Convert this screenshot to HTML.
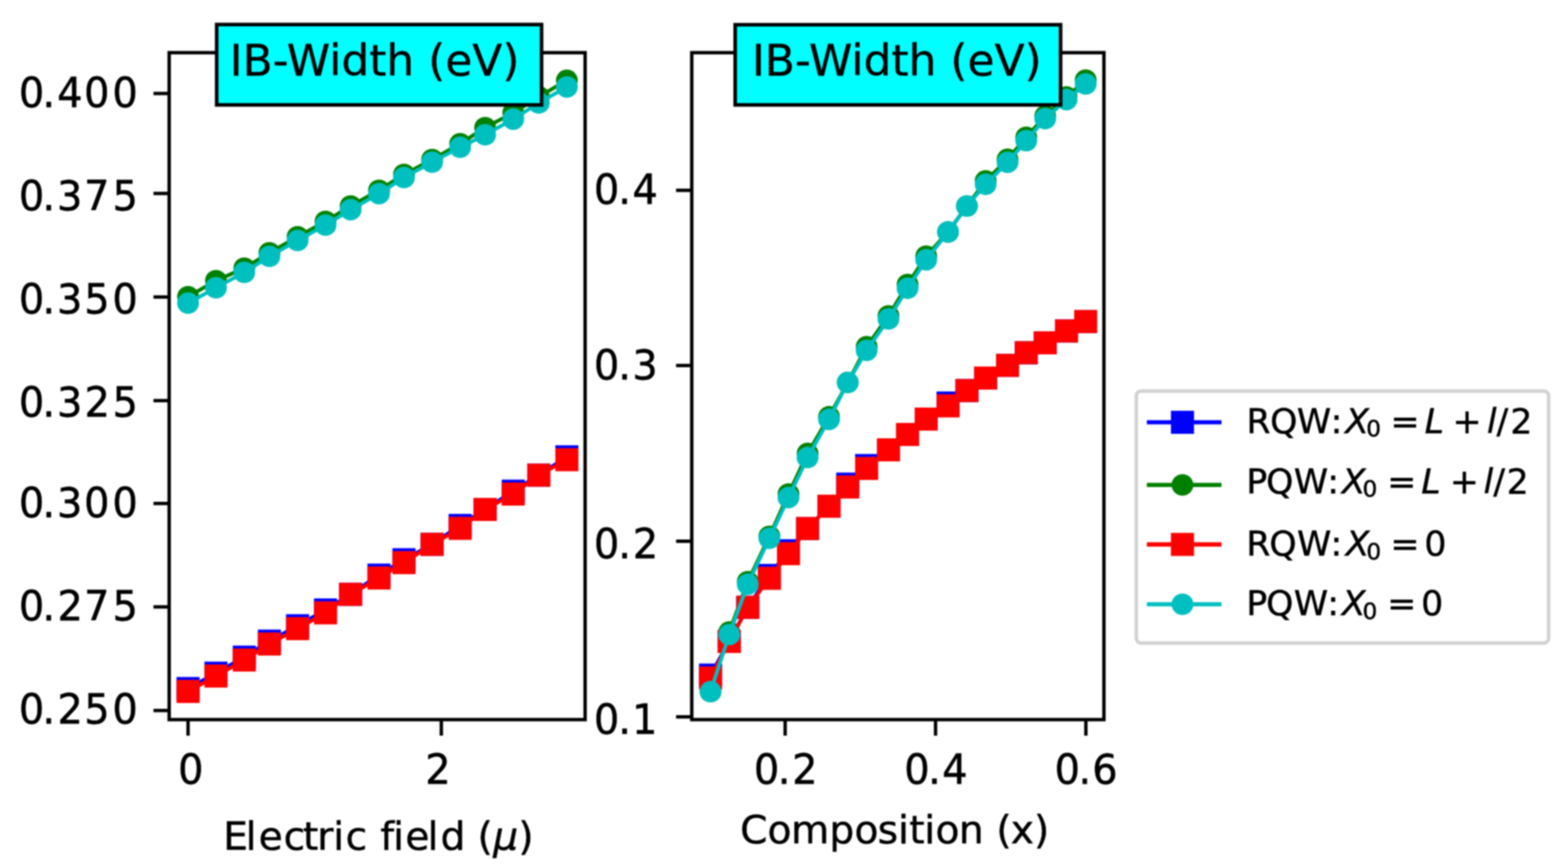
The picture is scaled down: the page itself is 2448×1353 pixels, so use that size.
<!DOCTYPE html>
<html><head><meta charset="utf-8"><title>IB-Width</title>
<style>html,body{margin:0;padding:0;background:#fff;} body{width:2448px;height:1353px;overflow:hidden;} svg{display:block;filter:blur(1.2px);}</style>
</head><body>
<svg width="2448" height="1353" viewBox="0 0 2448 1353" font-family="'DejaVu Sans', 'Liberation Sans', sans-serif">
<rect x="0" y="0" width="2448" height="1353" fill="#ffffff"/>
<defs>
<clipPath id="cl"><rect x="264.1" y="82.2" width="649.4" height="1040.8"/></clipPath>
<clipPath id="cr"><rect x="1080.0" y="82.2" width="643.5" height="1040.8"/></clipPath>
</defs>
<g>
<polyline points="293.6,1074.5 337.2,1050.5 381.4,1025.5 420.6,1000.5 464.6,976.5 508.2,951.9 547.4,927.5 591.7,897.5 630.7,873.5 674.6,849.5 718.4,820.0 757.4,795.0 801.3,766.5 841.2,741.5 885.0,712.9" fill="none" stroke="#0000ff" stroke-width="5.8" stroke-linejoin="round" stroke-linecap="square"/>
<rect x="275.6" y="1056.5" width="36.0" height="36.0" fill="#0000ff"/>
<rect x="319.2" y="1032.5" width="36.0" height="36.0" fill="#0000ff"/>
<rect x="363.4" y="1007.5" width="36.0" height="36.0" fill="#0000ff"/>
<rect x="402.6" y="982.5" width="36.0" height="36.0" fill="#0000ff"/>
<rect x="446.6" y="958.5" width="36.0" height="36.0" fill="#0000ff"/>
<rect x="490.2" y="933.9" width="36.0" height="36.0" fill="#0000ff"/>
<rect x="529.4" y="909.5" width="36.0" height="36.0" fill="#0000ff"/>
<rect x="573.7" y="879.5" width="36.0" height="36.0" fill="#0000ff"/>
<rect x="612.7" y="855.5" width="36.0" height="36.0" fill="#0000ff"/>
<rect x="656.6" y="831.5" width="36.0" height="36.0" fill="#0000ff"/>
<rect x="700.4" y="802.0" width="36.0" height="36.0" fill="#0000ff"/>
<rect x="739.4" y="777.0" width="36.0" height="36.0" fill="#0000ff"/>
<rect x="783.3" y="748.5" width="36.0" height="36.0" fill="#0000ff"/>
<rect x="823.2" y="723.5" width="36.0" height="36.0" fill="#0000ff"/>
<rect x="867.0" y="694.9" width="36.0" height="36.0" fill="#0000ff"/>
<polyline points="293.6,463.0 337.2,438.0 381.4,418.5 420.6,394.5 464.6,369.5 508.2,345.5 547.4,321.5 591.7,297.0 630.7,272.2 674.6,249.0 718.4,224.3 757.4,199.2 801.3,176.0 841.2,151.0 885.0,125.3" fill="none" stroke="#008000" stroke-width="5.8" stroke-linejoin="round" stroke-linecap="square"/>
<ellipse cx="293.6" cy="463.0" rx="17.0" ry="16.8" fill="#008000"/>
<ellipse cx="337.2" cy="438.0" rx="17.0" ry="16.8" fill="#008000"/>
<ellipse cx="381.4" cy="418.5" rx="17.0" ry="16.8" fill="#008000"/>
<ellipse cx="420.6" cy="394.5" rx="17.0" ry="16.8" fill="#008000"/>
<ellipse cx="464.6" cy="369.5" rx="17.0" ry="16.8" fill="#008000"/>
<ellipse cx="508.2" cy="345.5" rx="17.0" ry="16.8" fill="#008000"/>
<ellipse cx="547.4" cy="321.5" rx="17.0" ry="16.8" fill="#008000"/>
<ellipse cx="591.7" cy="297.0" rx="17.0" ry="16.8" fill="#008000"/>
<ellipse cx="630.7" cy="272.2" rx="17.0" ry="16.8" fill="#008000"/>
<ellipse cx="674.6" cy="249.0" rx="17.0" ry="16.8" fill="#008000"/>
<ellipse cx="718.4" cy="224.3" rx="17.0" ry="16.8" fill="#008000"/>
<ellipse cx="757.4" cy="199.2" rx="17.0" ry="16.8" fill="#008000"/>
<ellipse cx="801.3" cy="176.0" rx="17.0" ry="16.8" fill="#008000"/>
<ellipse cx="841.2" cy="151.0" rx="17.0" ry="16.8" fill="#008000"/>
<ellipse cx="885.0" cy="125.3" rx="17.0" ry="16.8" fill="#008000"/>
<polyline points="293.6,1079.0 337.2,1055.0 381.4,1030.0 420.6,1005.0 464.6,981.0 508.2,956.4 547.4,927.5 591.7,902.0 630.7,878.0 674.6,849.5 718.4,824.5 757.4,795.0 801.3,771.0 841.2,741.5 885.0,717.4" fill="none" stroke="#ff0000" stroke-width="5.8" stroke-linejoin="round" stroke-linecap="square"/>
<rect x="275.6" y="1061.0" width="36.0" height="36.0" fill="#ff0000"/>
<rect x="319.2" y="1037.0" width="36.0" height="36.0" fill="#ff0000"/>
<rect x="363.4" y="1012.0" width="36.0" height="36.0" fill="#ff0000"/>
<rect x="402.6" y="987.0" width="36.0" height="36.0" fill="#ff0000"/>
<rect x="446.6" y="963.0" width="36.0" height="36.0" fill="#ff0000"/>
<rect x="490.2" y="938.4" width="36.0" height="36.0" fill="#ff0000"/>
<rect x="529.4" y="909.5" width="36.0" height="36.0" fill="#ff0000"/>
<rect x="573.7" y="884.0" width="36.0" height="36.0" fill="#ff0000"/>
<rect x="612.7" y="860.0" width="36.0" height="36.0" fill="#ff0000"/>
<rect x="656.6" y="831.5" width="36.0" height="36.0" fill="#ff0000"/>
<rect x="700.4" y="806.5" width="36.0" height="36.0" fill="#ff0000"/>
<rect x="739.4" y="777.0" width="36.0" height="36.0" fill="#ff0000"/>
<rect x="783.3" y="753.0" width="36.0" height="36.0" fill="#ff0000"/>
<rect x="823.2" y="723.5" width="36.0" height="36.0" fill="#ff0000"/>
<rect x="867.0" y="699.4" width="36.0" height="36.0" fill="#ff0000"/>
<polyline points="293.6,473.0 337.2,449.0 381.4,425.0 420.6,400.0 464.6,375.3 508.2,351.3 547.4,327.2 591.7,302.2 630.7,277.0 674.6,253.0 718.4,229.8 757.4,210.3 801.3,185.9 841.2,160.6 885.0,135.7" fill="none" stroke="#00bfbf" stroke-width="5.8" stroke-linejoin="round" stroke-linecap="square"/>
<ellipse cx="293.6" cy="473.0" rx="17.0" ry="16.8" fill="#00bfbf"/>
<ellipse cx="337.2" cy="449.0" rx="17.0" ry="16.8" fill="#00bfbf"/>
<ellipse cx="381.4" cy="425.0" rx="17.0" ry="16.8" fill="#00bfbf"/>
<ellipse cx="420.6" cy="400.0" rx="17.0" ry="16.8" fill="#00bfbf"/>
<ellipse cx="464.6" cy="375.3" rx="17.0" ry="16.8" fill="#00bfbf"/>
<ellipse cx="508.2" cy="351.3" rx="17.0" ry="16.8" fill="#00bfbf"/>
<ellipse cx="547.4" cy="327.2" rx="17.0" ry="16.8" fill="#00bfbf"/>
<ellipse cx="591.7" cy="302.2" rx="17.0" ry="16.8" fill="#00bfbf"/>
<ellipse cx="630.7" cy="277.0" rx="17.0" ry="16.8" fill="#00bfbf"/>
<ellipse cx="674.6" cy="253.0" rx="17.0" ry="16.8" fill="#00bfbf"/>
<ellipse cx="718.4" cy="229.8" rx="17.0" ry="16.8" fill="#00bfbf"/>
<ellipse cx="757.4" cy="210.3" rx="17.0" ry="16.8" fill="#00bfbf"/>
<ellipse cx="801.3" cy="185.9" rx="17.0" ry="16.8" fill="#00bfbf"/>
<ellipse cx="841.2" cy="160.6" rx="17.0" ry="16.8" fill="#00bfbf"/>
<ellipse cx="885.0" cy="135.7" rx="17.0" ry="16.8" fill="#00bfbf"/>
</g>
<g>
<polyline points="1109.3,1053.5 1138.5,1001.0 1167.4,947.7 1201.2,898.0 1231.0,859.5 1260.8,824.8 1294.3,790.0 1323.5,755.5 1353.0,726.5 1387.1,702.0 1416.9,678.0 1446.0,654.0 1480.1,628.9 1509.6,609.5 1538.8,590.0 1573.0,570.2 1602.2,550.5 1631.8,535.0 1665.1,516.5 1695.0,501.8" fill="none" stroke="#0000ff" stroke-width="5.8" stroke-linejoin="round" stroke-linecap="square"/>
<rect x="1091.3" y="1035.5" width="36.0" height="36.0" fill="#0000ff"/>
<rect x="1120.5" y="983.0" width="36.0" height="36.0" fill="#0000ff"/>
<rect x="1149.4" y="929.7" width="36.0" height="36.0" fill="#0000ff"/>
<rect x="1183.2" y="880.0" width="36.0" height="36.0" fill="#0000ff"/>
<rect x="1213.0" y="841.5" width="36.0" height="36.0" fill="#0000ff"/>
<rect x="1242.8" y="806.8" width="36.0" height="36.0" fill="#0000ff"/>
<rect x="1276.3" y="772.0" width="36.0" height="36.0" fill="#0000ff"/>
<rect x="1305.5" y="737.5" width="36.0" height="36.0" fill="#0000ff"/>
<rect x="1335.0" y="708.5" width="36.0" height="36.0" fill="#0000ff"/>
<rect x="1369.1" y="684.0" width="36.0" height="36.0" fill="#0000ff"/>
<rect x="1398.9" y="660.0" width="36.0" height="36.0" fill="#0000ff"/>
<rect x="1428.0" y="636.0" width="36.0" height="36.0" fill="#0000ff"/>
<rect x="1462.1" y="610.9" width="36.0" height="36.0" fill="#0000ff"/>
<rect x="1491.6" y="591.5" width="36.0" height="36.0" fill="#0000ff"/>
<rect x="1520.8" y="572.0" width="36.0" height="36.0" fill="#0000ff"/>
<rect x="1555.0" y="552.2" width="36.0" height="36.0" fill="#0000ff"/>
<rect x="1584.2" y="532.5" width="36.0" height="36.0" fill="#0000ff"/>
<rect x="1613.8" y="517.0" width="36.0" height="36.0" fill="#0000ff"/>
<rect x="1647.1" y="498.5" width="36.0" height="36.0" fill="#0000ff"/>
<rect x="1677.0" y="483.8" width="36.0" height="36.0" fill="#0000ff"/>
<polyline points="1109.3,1079.3 1138.5,986.3 1167.4,907.7 1201.2,837.0 1231.0,771.0 1260.8,707.6 1294.3,650.4 1323.5,596.8 1353.0,541.1 1387.1,493.0 1416.9,444.0 1446.0,399.7 1480.1,362.0 1509.6,321.5 1538.8,282.3 1573.0,248.6 1602.2,214.2 1631.8,181.1 1665.1,151.4 1695.0,125.0" fill="none" stroke="#008000" stroke-width="5.8" stroke-linejoin="round" stroke-linecap="square"/>
<ellipse cx="1109.3" cy="1079.3" rx="17.0" ry="16.8" fill="#008000"/>
<ellipse cx="1138.5" cy="986.3" rx="17.0" ry="16.8" fill="#008000"/>
<ellipse cx="1167.4" cy="907.7" rx="17.0" ry="16.8" fill="#008000"/>
<ellipse cx="1201.2" cy="837.0" rx="17.0" ry="16.8" fill="#008000"/>
<ellipse cx="1231.0" cy="771.0" rx="17.0" ry="16.8" fill="#008000"/>
<ellipse cx="1260.8" cy="707.6" rx="17.0" ry="16.8" fill="#008000"/>
<ellipse cx="1294.3" cy="650.4" rx="17.0" ry="16.8" fill="#008000"/>
<ellipse cx="1323.5" cy="596.8" rx="17.0" ry="16.8" fill="#008000"/>
<ellipse cx="1353.0" cy="541.1" rx="17.0" ry="16.8" fill="#008000"/>
<ellipse cx="1387.1" cy="493.0" rx="17.0" ry="16.8" fill="#008000"/>
<ellipse cx="1416.9" cy="444.0" rx="17.0" ry="16.8" fill="#008000"/>
<ellipse cx="1446.0" cy="399.7" rx="17.0" ry="16.8" fill="#008000"/>
<ellipse cx="1480.1" cy="362.0" rx="17.0" ry="16.8" fill="#008000"/>
<ellipse cx="1509.6" cy="321.5" rx="17.0" ry="16.8" fill="#008000"/>
<ellipse cx="1538.8" cy="282.3" rx="17.0" ry="16.8" fill="#008000"/>
<ellipse cx="1573.0" cy="248.6" rx="17.0" ry="16.8" fill="#008000"/>
<ellipse cx="1602.2" cy="214.2" rx="17.0" ry="16.8" fill="#008000"/>
<ellipse cx="1631.8" cy="181.1" rx="17.0" ry="16.8" fill="#008000"/>
<ellipse cx="1665.1" cy="151.4" rx="17.0" ry="16.8" fill="#008000"/>
<ellipse cx="1695.0" cy="125.0" rx="17.0" ry="16.8" fill="#008000"/>
<polyline points="1109.3,1058.0 1138.5,1001.0 1167.4,947.7 1201.2,902.5 1231.0,864.0 1260.8,824.8 1294.3,790.0 1323.5,760.0 1353.0,731.0 1387.1,702.0 1416.9,678.0 1446.0,654.0 1480.1,633.4 1509.6,609.5 1538.8,590.0 1573.0,570.2 1602.2,550.5 1631.8,535.0 1665.1,516.5 1695.0,501.8" fill="none" stroke="#ff0000" stroke-width="5.8" stroke-linejoin="round" stroke-linecap="square"/>
<rect x="1091.3" y="1040.0" width="36.0" height="36.0" fill="#ff0000"/>
<rect x="1120.5" y="983.0" width="36.0" height="36.0" fill="#ff0000"/>
<rect x="1149.4" y="929.7" width="36.0" height="36.0" fill="#ff0000"/>
<rect x="1183.2" y="884.5" width="36.0" height="36.0" fill="#ff0000"/>
<rect x="1213.0" y="846.0" width="36.0" height="36.0" fill="#ff0000"/>
<rect x="1242.8" y="806.8" width="36.0" height="36.0" fill="#ff0000"/>
<rect x="1276.3" y="772.0" width="36.0" height="36.0" fill="#ff0000"/>
<rect x="1305.5" y="742.0" width="36.0" height="36.0" fill="#ff0000"/>
<rect x="1335.0" y="713.0" width="36.0" height="36.0" fill="#ff0000"/>
<rect x="1369.1" y="684.0" width="36.0" height="36.0" fill="#ff0000"/>
<rect x="1398.9" y="660.0" width="36.0" height="36.0" fill="#ff0000"/>
<rect x="1428.0" y="636.0" width="36.0" height="36.0" fill="#ff0000"/>
<rect x="1462.1" y="615.4" width="36.0" height="36.0" fill="#ff0000"/>
<rect x="1491.6" y="591.5" width="36.0" height="36.0" fill="#ff0000"/>
<rect x="1520.8" y="572.0" width="36.0" height="36.0" fill="#ff0000"/>
<rect x="1555.0" y="552.2" width="36.0" height="36.0" fill="#ff0000"/>
<rect x="1584.2" y="532.5" width="36.0" height="36.0" fill="#ff0000"/>
<rect x="1613.8" y="517.0" width="36.0" height="36.0" fill="#ff0000"/>
<rect x="1647.1" y="498.5" width="36.0" height="36.0" fill="#ff0000"/>
<rect x="1677.0" y="483.8" width="36.0" height="36.0" fill="#ff0000"/>
<polyline points="1109.3,1079.3 1138.5,990.3 1167.4,911.7 1201.2,840.0 1231.0,776.4 1260.8,714.0 1294.3,654.4 1323.5,596.8 1353.0,546.8 1387.1,497.8 1416.9,449.8 1446.0,405.4 1480.1,362.0 1509.6,321.5 1538.8,287.6 1573.0,253.2 1602.2,219.5 1631.8,185.1 1665.1,155.4 1695.0,131.0" fill="none" stroke="#00bfbf" stroke-width="5.8" stroke-linejoin="round" stroke-linecap="square"/>
<ellipse cx="1109.3" cy="1079.3" rx="17.0" ry="16.8" fill="#00bfbf"/>
<ellipse cx="1138.5" cy="990.3" rx="17.0" ry="16.8" fill="#00bfbf"/>
<ellipse cx="1167.4" cy="911.7" rx="17.0" ry="16.8" fill="#00bfbf"/>
<ellipse cx="1201.2" cy="840.0" rx="17.0" ry="16.8" fill="#00bfbf"/>
<ellipse cx="1231.0" cy="776.4" rx="17.0" ry="16.8" fill="#00bfbf"/>
<ellipse cx="1260.8" cy="714.0" rx="17.0" ry="16.8" fill="#00bfbf"/>
<ellipse cx="1294.3" cy="654.4" rx="17.0" ry="16.8" fill="#00bfbf"/>
<ellipse cx="1323.5" cy="596.8" rx="17.0" ry="16.8" fill="#00bfbf"/>
<ellipse cx="1353.0" cy="546.8" rx="17.0" ry="16.8" fill="#00bfbf"/>
<ellipse cx="1387.1" cy="497.8" rx="17.0" ry="16.8" fill="#00bfbf"/>
<ellipse cx="1416.9" cy="449.8" rx="17.0" ry="16.8" fill="#00bfbf"/>
<ellipse cx="1446.0" cy="405.4" rx="17.0" ry="16.8" fill="#00bfbf"/>
<ellipse cx="1480.1" cy="362.0" rx="17.0" ry="16.8" fill="#00bfbf"/>
<ellipse cx="1509.6" cy="321.5" rx="17.0" ry="16.8" fill="#00bfbf"/>
<ellipse cx="1538.8" cy="287.6" rx="17.0" ry="16.8" fill="#00bfbf"/>
<ellipse cx="1573.0" cy="253.2" rx="17.0" ry="16.8" fill="#00bfbf"/>
<ellipse cx="1602.2" cy="219.5" rx="17.0" ry="16.8" fill="#00bfbf"/>
<ellipse cx="1631.8" cy="185.1" rx="17.0" ry="16.8" fill="#00bfbf"/>
<ellipse cx="1665.1" cy="155.4" rx="17.0" ry="16.8" fill="#00bfbf"/>
<ellipse cx="1695.0" cy="131.0" rx="17.0" ry="16.8" fill="#00bfbf"/>
</g>
<rect x="264.1" y="82.2" width="649.4" height="1040.8" fill="none" stroke="#000000" stroke-width="5.3" stroke-linejoin="miter"/>
<line x1="239.6" y1="145.9" x2="264.1" y2="145.9" stroke="#000000" stroke-width="5.3"/>
<line x1="239.6" y1="301.9" x2="264.1" y2="301.9" stroke="#000000" stroke-width="5.3"/>
<line x1="239.6" y1="463.5" x2="264.1" y2="463.5" stroke="#000000" stroke-width="5.3"/>
<line x1="239.6" y1="625.2" x2="264.1" y2="625.2" stroke="#000000" stroke-width="5.3"/>
<line x1="239.6" y1="785.7" x2="264.1" y2="785.7" stroke="#000000" stroke-width="5.3"/>
<line x1="239.6" y1="947.1" x2="264.1" y2="947.1" stroke="#000000" stroke-width="5.3"/>
<line x1="239.6" y1="1108.8" x2="264.1" y2="1108.8" stroke="#000000" stroke-width="5.3"/>
<line x1="293.6" y1="1123.0" x2="293.6" y2="1148.0" stroke="#000000" stroke-width="5.3"/>
<line x1="689.0" y1="1123.0" x2="689.0" y2="1148.0" stroke="#000000" stroke-width="5.3"/>
<rect x="1080.0" y="82.2" width="643.5" height="1040.8" fill="none" stroke="#000000" stroke-width="5.3" stroke-linejoin="miter"/>
<line x1="1055.5" y1="297.0" x2="1080.0" y2="297.0" stroke="#000000" stroke-width="5.3"/>
<line x1="1055.5" y1="570.4" x2="1080.0" y2="570.4" stroke="#000000" stroke-width="5.3"/>
<line x1="1055.5" y1="844.6" x2="1080.0" y2="844.6" stroke="#000000" stroke-width="5.3"/>
<line x1="1055.5" y1="1118.7" x2="1080.0" y2="1118.7" stroke="#000000" stroke-width="5.3"/>
<line x1="1225.8" y1="1123.0" x2="1225.8" y2="1148.0" stroke="#000000" stroke-width="5.3"/>
<line x1="1460.6" y1="1123.0" x2="1460.6" y2="1148.0" stroke="#000000" stroke-width="5.3"/>
<line x1="1695.3" y1="1123.0" x2="1695.3" y2="1148.0" stroke="#000000" stroke-width="5.3"/>
<rect x="338.3" y="38.3" width="507.2" height="125.4" fill="#00ffff" stroke="#000000" stroke-width="5.6"/>
<rect x="1147.8" y="38.6" width="508.0" height="125.1" fill="#00ffff" stroke="#000000" stroke-width="5.6"/>
<text transform="translate(358.58,118.30) scale(1.0224,1)" font-size="67.00" stroke="#000" stroke-width="0.5">IB-Width (eV)</text>
<text transform="translate(1173.88,118.30) scale(1.0224,1)" font-size="67.00" stroke="#000" stroke-width="0.5">IB-Width (eV)</text>
<text transform="translate(49.30,166.51) scale(0.9811,1)" font-size="63.50" stroke="#000" stroke-width="0.8"><tspan x="-20.18">0</tspan><tspan x="17.25">.</tspan><tspan x="40.63">4</tspan><tspan x="83.53">0</tspan><tspan x="128.53">0</tspan></text>
<text transform="translate(49.30,327.51) scale(0.9811,1)" font-size="63.50" stroke="#000" stroke-width="0.8"><tspan x="-20.18">0</tspan><tspan x="17.25">.</tspan><tspan x="40.52">3</tspan><tspan x="83.62">7</tspan><tspan x="128.84">5</tspan></text>
<text transform="translate(49.30,489.11) scale(0.9811,1)" font-size="63.50" stroke="#000" stroke-width="0.8"><tspan x="-20.18">0</tspan><tspan x="17.25">.</tspan><tspan x="40.52">3</tspan><tspan x="83.84">5</tspan><tspan x="128.53">0</tspan></text>
<text transform="translate(49.30,650.11) scale(0.9811,1)" font-size="63.50" stroke="#000" stroke-width="0.8"><tspan x="-20.18">0</tspan><tspan x="17.25">.</tspan><tspan x="40.52">3</tspan><tspan x="84.36">2</tspan><tspan x="128.84">5</tspan></text>
<text transform="translate(49.30,806.61) scale(0.9811,1)" font-size="63.50" stroke="#000" stroke-width="0.8"><tspan x="-20.18">0</tspan><tspan x="17.25">.</tspan><tspan x="40.52">3</tspan><tspan x="83.53">0</tspan><tspan x="128.53">0</tspan></text>
<text transform="translate(49.30,968.41) scale(0.9811,1)" font-size="63.50" stroke="#000" stroke-width="0.8"><tspan x="-20.18">0</tspan><tspan x="17.25">.</tspan><tspan x="41.25">2</tspan><tspan x="83.62">7</tspan><tspan x="128.84">5</tspan></text>
<text transform="translate(49.30,1129.11) scale(0.9811,1)" font-size="63.50" stroke="#000" stroke-width="0.8"><tspan x="-20.18">0</tspan><tspan x="17.25">.</tspan><tspan x="41.25">2</tspan><tspan x="83.84">5</tspan><tspan x="128.53">0</tspan></text>
<text transform="translate(947.00,318.01) scale(0.9811,1)" font-size="63.50" stroke="#000" stroke-width="0.8"><tspan x="-20.18">0</tspan><tspan x="18.58">.</tspan><tspan x="41.19">4</tspan></text>
<text transform="translate(947.00,591.61) scale(0.9811,1)" font-size="63.50" stroke="#000" stroke-width="0.8"><tspan x="-20.18">0</tspan><tspan x="18.58">.</tspan><tspan x="41.08">3</tspan></text>
<text transform="translate(947.00,870.61) scale(0.9811,1)" font-size="63.50" stroke="#000" stroke-width="0.8"><tspan x="-20.18">0</tspan><tspan x="18.58">.</tspan><tspan x="41.81">2</tspan></text>
<text transform="translate(947.00,1144.61) scale(0.9811,1)" font-size="63.50" stroke="#000" stroke-width="0.8"><tspan x="-20.18">0</tspan><tspan x="18.58">.</tspan><tspan x="40.40">1</tspan></text>
<text transform="translate(277.90,1222.91) scale(0.9811,1)" font-size="63.50" stroke="#000" stroke-width="0.8">0</text>
<text transform="translate(664.02,1222.91) scale(0.9811,1)" font-size="63.50" stroke="#000" stroke-width="0.8">2</text>
<text transform="translate(1196.80,1222.91) scale(0.9811,1)" font-size="63.50" stroke="#000" stroke-width="0.8"><tspan x="-20.18">0</tspan><tspan x="17.87">.</tspan><tspan x="40.69">2</tspan></text>
<text transform="translate(1431.60,1222.91) scale(0.9811,1)" font-size="63.50" stroke="#000" stroke-width="0.8"><tspan x="-20.18">0</tspan><tspan x="17.87">.</tspan><tspan x="40.07">4</tspan></text>
<text transform="translate(1666.30,1222.91) scale(0.9811,1)" font-size="63.50" stroke="#000" stroke-width="0.8"><tspan x="-20.18">0</tspan><tspan x="17.87">.</tspan><tspan x="39.62">6</tspan></text>
<text transform="translate(369.00,1325.80) scale(1.0116,1)" font-size="60.50" stroke="#000" stroke-width="0.7" xml:space="preserve"><tspan x="-20.15">E</tspan><tspan x="14.32">l</tspan><tspan x="34.32">e</tspan><tspan x="72.84">c</tspan><tspan x="102.82">t</tspan><tspan x="124.80">r</tspan><tspan x="149.45">i</tspan><tspan x="168.54">c</tspan> <tspan x="222.07">f</tspan><tspan x="241.98">i</tspan><tspan x="260.80">e</tspan><tspan x="295.07">l</tspan><tspan x="315.02">d</tspan> <tspan x="372.08">(</tspan><tspan x="396.31" font-style="italic">μ</tspan><tspan x="435.11">)</tspan></text>
<text transform="translate(1176.80,1316.30) scale(1.0116,1)" font-size="60.50" stroke="#000" stroke-width="0.7" xml:space="preserve"><tspan x="-21.18">C</tspan><tspan x="21.12">o</tspan><tspan x="57.45">m</tspan><tspan x="116.72">p</tspan><tspan x="155.37">o</tspan><tspan x="191.18">s</tspan><tspan x="222.71">i</tspan><tspan x="239.84">t</tspan><tspan x="263.04">i</tspan><tspan x="280.52">o</tspan><tspan x="316.47">n</tspan> <tspan x="374.25">(</tspan><tspan x="396.72">x</tspan><tspan x="432.34">)</tspan></text>
<rect x="1774.0" y="610.3" width="643.8" height="393.3" rx="7.5" ry="7.5" fill="#ffffff" stroke="#d2d2d2" stroke-width="5.5"/>
<line x1="1790.5" y1="659.0" x2="1907.0" y2="659.0" stroke="#0000ff" stroke-width="6.6" stroke-linecap="butt"/>
<rect x="1828.1" y="641.0" width="36.0" height="36.0" fill="#0000ff"/>
<line x1="1790.5" y1="756.7" x2="1907.0" y2="756.7" stroke="#008000" stroke-width="6.6" stroke-linecap="butt"/>
<ellipse cx="1846.1" cy="756.7" rx="17.0" ry="16.8" fill="#008000"/>
<line x1="1790.5" y1="849.6" x2="1907.0" y2="849.6" stroke="#ff0000" stroke-width="6.6" stroke-linecap="butt"/>
<rect x="1828.1" y="831.6" width="36.0" height="36.0" fill="#ff0000"/>
<line x1="1790.5" y1="943.0" x2="1907.0" y2="943.0" stroke="#00bfbf" stroke-width="6.6" stroke-linecap="butt"/>
<ellipse cx="1846.1" cy="943.0" rx="17.0" ry="16.8" fill="#00bfbf"/>
<text transform="translate(1945.99,676.00) scale(1.02,1)" font-size="53.0" stroke="#000" stroke-width="0.7"><tspan x="0.00" y="0">R</tspan><tspan x="36.34" y="0">Q</tspan><tspan x="77.17" y="0">W</tspan><tspan x="128.89" y="0">:</tspan><tspan x="151.20" y="0" font-style="italic">X</tspan><tspan x="183.45" y="5.4" font-size="35.5">0</tspan><tspan x="220.66" y="0">=</tspan><tspan x="272.80" y="0" font-style="italic">L</tspan><tspan x="315.57" y="0">+</tspan><tspan x="368.14" y="0" font-style="italic">l</tspan><tspan x="382.85" y="0">/</tspan><tspan x="403.87" y="0">2</tspan></text>
<text transform="translate(1945.69,769.50) scale(1.02,1)" font-size="53.0" stroke="#000" stroke-width="0.7"><tspan x="0.00" y="0">P</tspan><tspan x="30.56" y="0">Q</tspan><tspan x="72.85" y="0">W</tspan><tspan x="124.19" y="0">:</tspan><tspan x="146.40" y="0" font-style="italic">X</tspan><tspan x="177.96" y="5.4" font-size="35.5">0</tspan><tspan x="215.76" y="0">=</tspan><tspan x="267.90" y="0" font-style="italic">L</tspan><tspan x="311.64" y="0">+</tspan><tspan x="363.34" y="0" font-style="italic">l</tspan><tspan x="378.34" y="0">/</tspan><tspan x="398.48" y="0">2</tspan></text>
<text transform="translate(1945.69,867.30) scale(1.02,1)" font-size="53.0" stroke="#000" stroke-width="0.7"><tspan x="0.00" y="0">R</tspan><tspan x="35.46" y="0">Q</tspan><tspan x="77.76" y="0">W</tspan><tspan x="129.09" y="0">:</tspan><tspan x="152.28" y="0" font-style="italic">X</tspan><tspan x="183.84" y="5.4" font-size="35.5">0</tspan><tspan x="220.66" y="0">=</tspan><tspan x="272.69" y="0">0</tspan></text>
<text transform="translate(1945.69,960.10) scale(1.02,1)" font-size="53.0" stroke="#000" stroke-width="0.7"><tspan x="0.00" y="0">P</tspan><tspan x="30.56" y="0">Q</tspan><tspan x="72.85" y="0">W</tspan><tspan x="124.19" y="0">:</tspan><tspan x="146.40" y="0" font-style="italic">X</tspan><tspan x="177.96" y="5.4" font-size="35.5">0</tspan><tspan x="215.76" y="0">=</tspan><tspan x="267.79" y="0">0</tspan></text>
</svg>
</body></html>
